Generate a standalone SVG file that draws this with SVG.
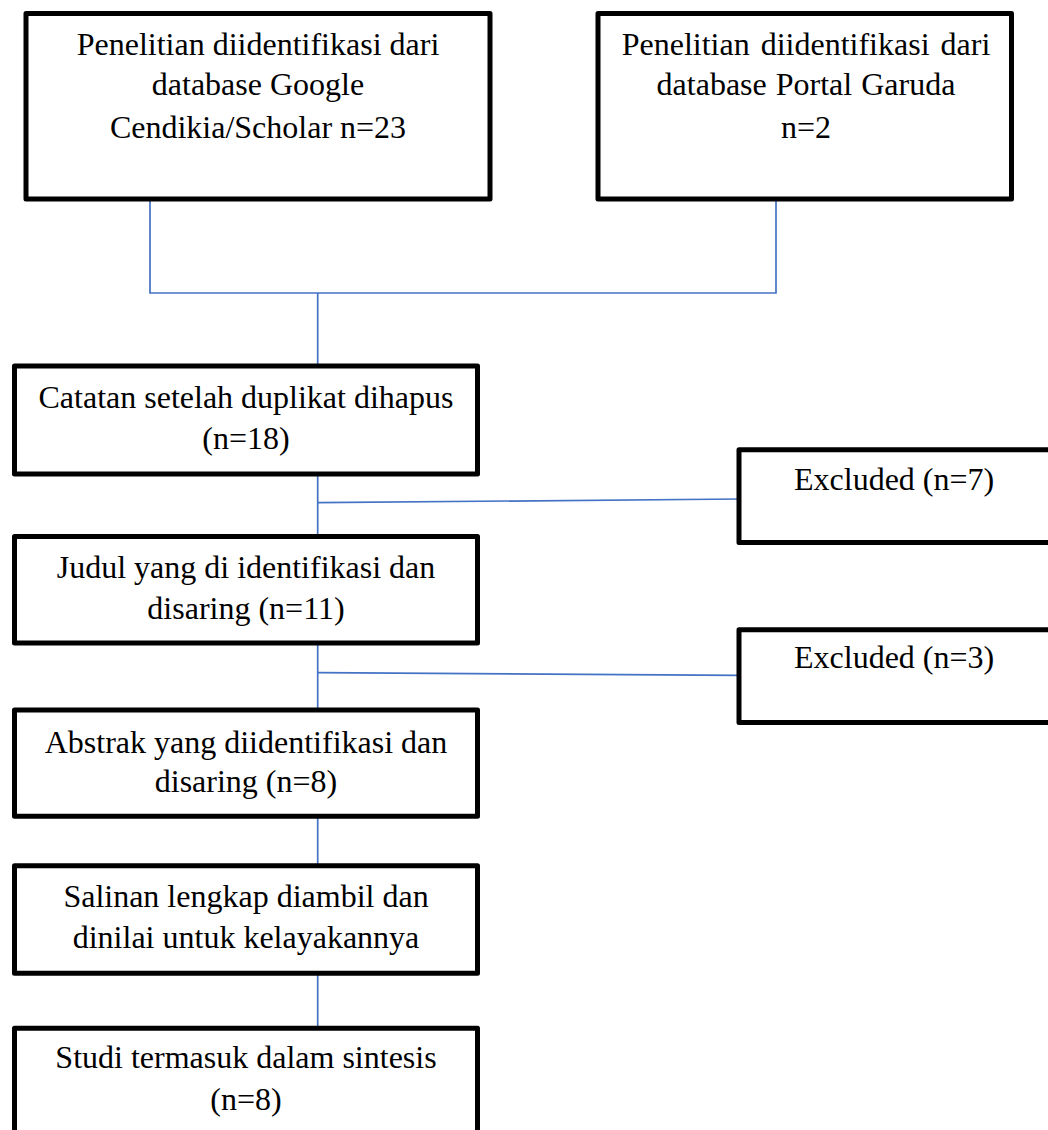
<svg xmlns="http://www.w3.org/2000/svg" width="1048" height="1130" viewBox="0 0 1048 1130">
<style>
.box{fill:#fff;stroke:#000;stroke-width:5;stroke-linejoin:round}
.t{font-family:"Liberation Serif","Times New Roman",serif;font-size:32px;fill:#000;text-anchor:middle}
.tl{font-family:"Liberation Serif","Times New Roman",serif;font-size:32px;fill:#000}
.c{fill:none;stroke:#4472C4;stroke-width:1.7}
</style>
<rect width="1048" height="1130" fill="#fff"/>
<g id="connectors">
<polyline class="c" points="150,200 150,293 776,293 776,200"/>
<line class="c" x1="317.7" y1="293" x2="317.7" y2="366"/>
<line class="c" x1="317.7" y1="474" x2="317.7" y2="537"/>
<line class="c" x1="317.7" y1="502.7" x2="739" y2="499"/>
<line class="c" x1="317.7" y1="643" x2="317.7" y2="710"/>
<line class="c" x1="317.7" y1="672.7" x2="739" y2="675.3"/>
<line class="c" x1="317.7" y1="816" x2="317.7" y2="866"/>
<line class="c" x1="317.7" y1="973" x2="317.7" y2="1028"/>
</g>
<g id="n1">
<rect class="box" x="26" y="13.5" width="464" height="185.5"/>
<text class="t" x="258" y="55">Penelitian diidentifikasi dari</text>
<text class="t" x="258" y="95">database Google</text>
<text class="t" x="258" y="137.5">Cendikia/Scholar n=23</text>
</g>
<g id="n2">
<rect class="box" x="598" y="13.5" width="413.5" height="185.5"/>
<text class="t" x="806" y="55" word-spacing="3">Penelitian diidentifikasi dari</text>
<text class="t" x="806" y="95" word-spacing="1">database Portal Garuda</text>
<text class="t" x="806" y="137.5">n=2</text>
</g>
<g id="n3">
<rect class="box" x="14.5" y="366" width="463" height="108"/>
<text class="t" x="246" y="407.5">Catatan setelah duplikat dihapus</text>
<text class="t" x="246" y="448.5">(n=18)</text>
</g>
<g id="n4">
<rect class="box" x="14.5" y="536.5" width="463" height="106.5"/>
<text class="t" x="246" y="578">Judul yang di identifikasi dan</text>
<text class="t" x="246" y="619">disaring (n=11)</text>
</g>
<g id="n5">
<rect class="box" x="14.5" y="710" width="463" height="106.3"/>
<text class="t" x="246" y="752.7">Abstrak yang diidentifikasi dan</text>
<text class="t" x="246" y="791.7">disaring (n=8)</text>
</g>
<g id="n6">
<rect class="box" x="14.5" y="865.8" width="463" height="107.5"/>
<text class="t" x="246" y="906.7">Salinan lengkap diambil dan</text>
<text class="t" x="246" y="948.3">dinilai untuk kelayakannya</text>
</g>
<g id="n7">
<rect class="box" x="14.5" y="1028.3" width="463" height="130"/>
<text class="t" x="246" y="1068.3">Studi termasuk dalam sintesis</text>
<text class="t" x="246" y="1110">(n=8)</text>
</g>
<g id="e1">
<rect class="box" x="739" y="449.7" width="340" height="92.8"/>
<text class="tl" x="794" y="490">Excluded (n=7)</text>
</g>
<g id="e2">
<rect class="box" x="739" y="629.7" width="340" height="92.8"/>
<text class="tl" x="794" y="668.3">Excluded (n=3)</text>
</g>
</svg>
